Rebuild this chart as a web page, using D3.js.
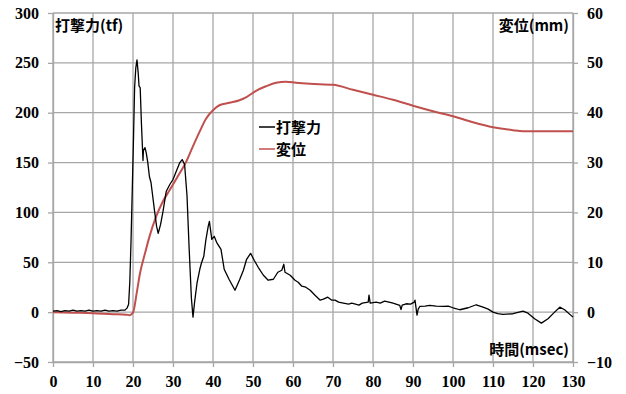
<!DOCTYPE html>
<html>
<head>
<meta charset="utf-8">
<script src="https://cdn.jsdelivr.net/npm/d3@7"></script>
<style>
  body { margin: 0; background: #fff; }
  text { font-family: "Noto Sans CJK JP", sans-serif; font-weight: bold; fill: #000; }
</style>
</head>
<body>
<script>
const width = 626,
    height = 394;
const margin = {top: 13, right: 53, bottom: 32, left: 53};

// force 打撃力 (tf)
const forceT = [0, 1, 2, 3, 4, 5, 6, 7, 8, 9, 10, 11, 12, 13, 14, 15, 16, 17, 18, 18.5, 18.9, 19.2, 19.5, 19.8,
    20.1, 20.4, 20.7, 21, 21.3, 21.5, 21.8, 22.1, 22.5, 22.6, 23, 23.3, 23.7, 24.1, 24.5, 25, 25.4, 25.9,
    26.3, 26.9, 27.5, 28.3, 29.2, 30, 30.8, 31.7, 32.3, 32.9, 33.5, 34, 34.6, 35, 35.4, 36, 36.7, 37.1,
    37.7, 38.2, 38.8, 39.1, 39.7, 40.3, 40.9, 42, 42.8, 44, 45.5, 46.7, 47.6, 48.4, 49.4, 50.3, 51.3,
    52.6, 53.8, 55.1, 56.2, 57.2, 57.7, 58, 59.3, 60.5, 61.3, 62.2, 63.2, 64.3, 65.5, 66.8, 67.6, 68.7,
    69.7, 70.5, 71.4, 72.6, 73.9, 74.7, 75.6, 76.5, 77.3, 78.8, 79, 79.3, 80.8, 81.8, 82.9, 84, 85, 86.7,
    87, 87.3, 88.3, 89.4, 90.3, 90.5, 91, 91.3, 91.7, 93, 94.2, 95.8, 97.5, 98.8, 100, 101.7, 103.8, 105.8,
    107.5, 108.8, 110, 111.2, 112.5, 115, 117.5, 118.75, 120.4, 122.1, 123.75, 125.4, 126.7, 127.9, 130];
const forceV = [1, 1.5, 0.5, 1.5, 1, 2, 1, 1.5, 1, 2, 1, 1.5, 1, 2, 1, 1.5, 1, 2, 2, 4, 8, 30, 70, 120,
    170, 225, 245, 253, 240, 227, 225, 190, 152, 162, 165, 160, 150, 136, 130, 114, 101, 86,
    79, 88, 101, 121, 128, 133, 141, 150, 153, 148, 117, 67, 14, -5, 10, 29, 43, 49,
    56, 72, 86, 91, 73, 76, 70, 63, 43, 33, 22, 33, 42, 53, 59, 52, 45,
    37, 32, 33, 40, 42, 48, 40, 37, 32, 30, 26, 25, 22, 17, 12, 13, 15,
    12, 12, 10, 9, 8, 9, 8, 7, 9, 10, 17, 9, 10, 9, 11, 10, 9, 6.7,
    2.5, 7, 8.4, 8, 10, 12, -3, 3, 5.7, 6, 6.7, 6, 5.7, 6, 4.4, 2.4, 4.4, 7.4,
    5, 3, 0, -1.5, -2.3, -1.6, 1, -1, -6.6, -11, -6.6, 0, 5, 2.4, -5];

// displacement 変位 (mm)
const dispT = [0, 5, 10, 15, 18.3, 19.2, 20, 20.9, 21.75, 23, 24.1, 25.75, 27.4, 29.1, 31.1, 33.25, 34.9,
    36.6, 38.25, 40, 41.6, 44.1, 46.6, 48.25, 50.75, 53.25, 55.75, 58.25, 60.75, 64.25, 70, 75, 80,
    85, 90, 95, 100, 105, 110, 115, 117.5, 120, 130];
const dispV = [0, -0.1, -0.2, -0.4, -0.5, -0.6, -0.1, 3.7, 7.8, 11.8, 15.1, 19.1, 22.1, 24.4, 27.1, 30.1, 33.1,
    36.1, 38.8, 40.5, 41.5, 42, 42.5, 43.1, 44.4, 45.3, 46, 46.2, 46, 45.8, 45.6, 44.6, 43.6,
    42.6, 41.4, 40.3, 39.3, 38.1, 37.1, 36.5, 36.3, 36.3, 36.3];

const xTicks = d3.range(0, 131, 10);
const yLeftTicks = [-50, 0, 50, 100, 150, 200, 250, 300];
const yRightTicks = [-10, 0, 10, 20, 30, 40, 50, 60];
const seriesNames = ['打撃力', '変位'];
const seriesColors = ['#000000', '#c0504d'];

var svg = d3.select("body").append("svg")
    .attr("width", width)
    .attr("height", height);

const x = d3.scaleLinear().domain([0, 130]).range([margin.left, width - margin.right]);
const yL = d3.scaleLinear().domain([-50, 300]).range([height - margin.bottom, margin.top]);
const yR = d3.scaleLinear().domain([-10, 60]).range([height - margin.bottom, margin.top]);

const gridColor = '#a6a6a6';

// grid
var grid = svg.append('g').attr('class', 'grid');
grid.selectAll('line.v').data(xTicks).enter().append('line')
    .attr('x1', d => x(d)).attr('x2', d => x(d))
    .attr('y1', margin.top).attr('y2', height - margin.bottom)
    .attr('stroke', gridColor).attr('stroke-width', 1.3);
grid.selectAll('line.h').data(yLeftTicks).enter().append('line')
    .attr('x1', margin.left).attr('x2', width - margin.right)
    .attr('y1', d => yL(d)).attr('y2', d => yL(d))
    .attr('stroke', gridColor).attr('stroke-width', 1.3);

// axes
function styleAxis(g) {
    g.select('.domain').attr('stroke', gridColor).attr('stroke-width', 1.3);
    g.selectAll('.tick line').attr('stroke', gridColor).attr('stroke-width', 1.3);
    g.selectAll('.tick text')
        .style('font-family', '"Liberation Serif", serif')
        .style('font-size', '16px');
}
const minus = d => d < 0 ? '\u2212' + Math.abs(d) : d;
svg.append('g')
    .attr('transform', `translate(0,${height - margin.bottom})`)
    .call(d3.axisBottom(x).tickValues(xTicks).tickSize(5).tickSizeOuter(0).tickPadding(9))
    .call(styleAxis);
svg.append('g')
    .attr('transform', `translate(${margin.left},0)`)
    .call(d3.axisLeft(yL).tickValues(yLeftTicks).tickSize(5).tickSizeOuter(0).tickPadding(9).tickFormat(minus))
    .call(styleAxis);
svg.append('g')
    .attr('transform', `translate(${width - margin.right},0)`)
    .call(d3.axisRight(yR).tickValues(yRightTicks).tickSize(5).tickSizeOuter(0).tickPadding(9).tickFormat(minus))
    .call(styleAxis);

// lines
const forceData = forceT.map((t, i) => [t, forceV[i]]);
const dispData = dispT.map((t, i) => [t, dispV[i]]);

svg.append('path')
    .datum(dispData)
    .attr('fill', 'none')
    .attr('stroke', seriesColors[1])
    .attr('stroke-width', 2)
    .attr('d', d3.line().x(d => x(d[0])).y(d => yR(d[1])).curve(d3.curveMonotoneX));

svg.append('path')
    .datum(forceData)
    .attr('fill', 'none')
    .attr('stroke', seriesColors[0])
    .attr('stroke-width', 1.3)
    .attr('stroke-linejoin', 'round')
    .attr('d', d3.line().x(d => x(d[0])).y(d => yL(d[1])));

// axis titles
svg.append('text').attr('x', 55).attr('y', 31).style('font-size', '15px').text('打撃力(tf)');
svg.append('text').attr('x', 569).attr('y', 31).attr('text-anchor', 'end').style('font-size', '15px').text('変位(mm)');
svg.append('text').attr('x', 569).attr('y', 355).attr('text-anchor', 'end').style('font-size', '15px').text('時間(msec)');

// legend
var legend = svg.append('g').attr('transform', 'translate(259,127)');
seriesNames.forEach((name, i) => {
    legend.append('line')
        .attr('x1', 0).attr('x2', 16)
        .attr('y1', i * 22).attr('y2', i * 22)
        .attr('stroke', seriesColors[i]).attr('stroke-width', 1.5);
    legend.append('text')
        .attr('x', 17).attr('y', i * 22 + 6)
        .style('font-size', '15px')
        .text(name);
});
</script>
</body>
</html>
